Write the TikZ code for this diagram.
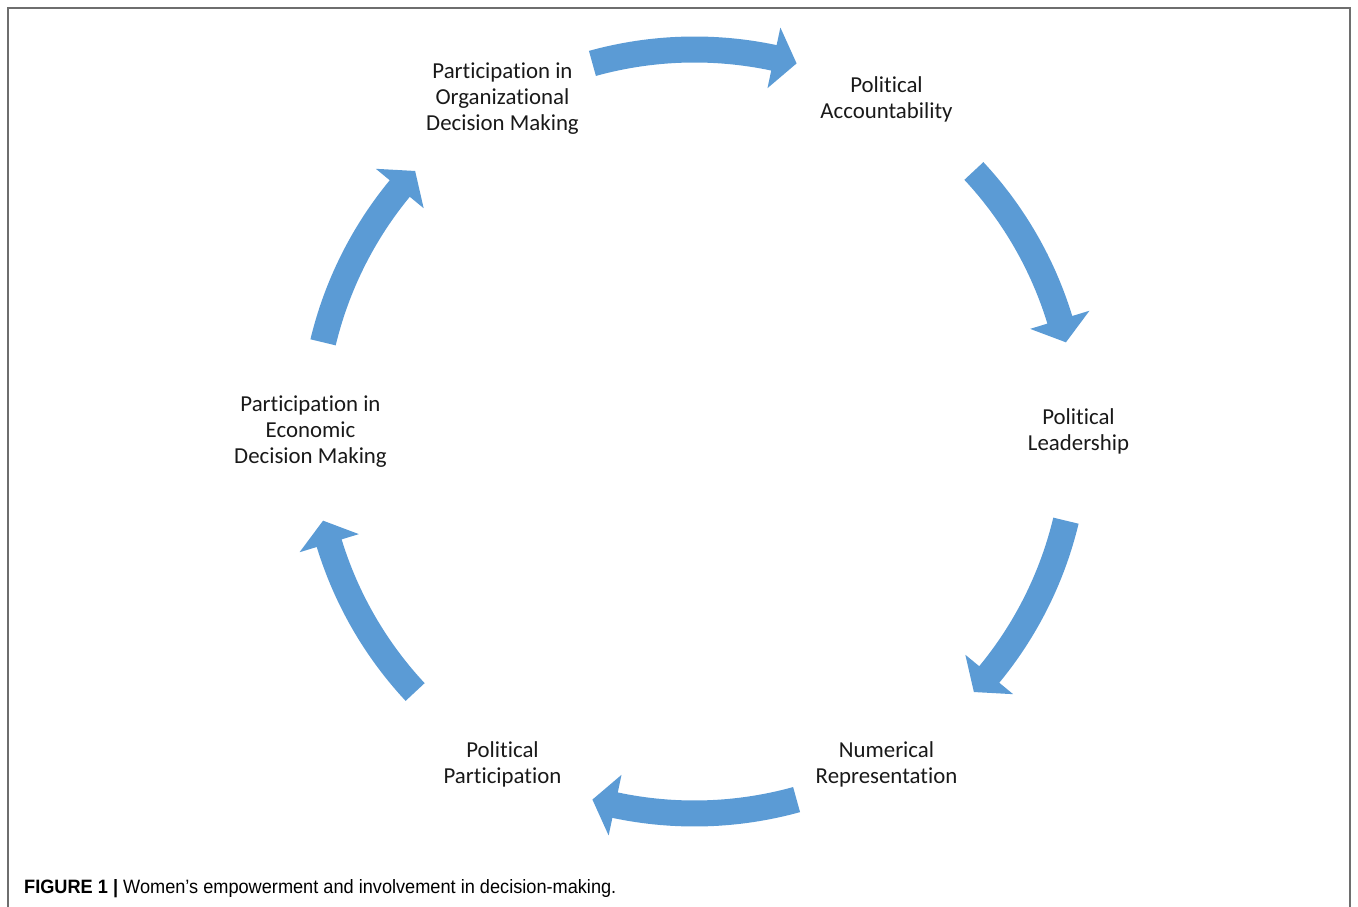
\documentclass[tikz,border=0pt]{standalone}
\usepackage{fontspec}
\setmainfont[Ligatures=CommonOff]{Carlito}
\newfontfamily\capfont[FakeStretch=0.94]{Liberation Sans}
\usepackage{tikz}
\usetikzlibrary{calc, positioning}
\definecolor{arrowblue}{RGB}{91,155,213}
\definecolor{framegray}{RGB}{110,110,110}

\begin{document}
\begin{tikzpicture}[
    stage/.style={align=center, font=\fontsize{13}{14.8}\selectfont, text=black!90},
    cyclearrow/.style={fill=arrowblue}]
  \useasboundingbox (0,0) rectangle (27.16,18.12);
  % draws the frame
  \draw[line width=1.1pt, color=framegray] (0.16,-0.2)--(0.16,17.96)--(27.0,17.96)--(27.0,-0.2);
  \coordinate (c) at (13.89,9.49);

  % draws the stages
  \foreach \ang/\name/\txt in {120/orgdec/{Participation in\\Organizational\\Decision Making},
      60/polacc/{Political\\Accountability}, 0/pollead/{Political\\Leadership},
      -60/numrep/{Numerical\\Representation}, -120/polpart/{Political\\Participation},
      180/ecodec/{Participation in\\Economic\\Decision Making}}
    \node[stage] (\name) at ($(c)+(\ang:7.68)$) {\txt};

  % draws the arrows of the cycle (tail angle / tip angle)
  \foreach \s/\e in {105.5/74.5, 43/13.5, -13.5/-43, -74.5/-105.5, -137/-166.5, 166.5/137}
    \fill[cyclearrow] ($(c)+(\s:7.9)$) arc[start angle=\s, end angle=\e+3.5, radius=7.9]
      -- ($(c)+(\e+3.5:8.26)$) -- ($(c)+(\e:7.64)$) -- ($(c)+(\e+3.5:7.02)$)
      -- ($(c)+(\e+3.5:7.38)$) arc[start angle=\e+3.5, end angle=\s, radius=7.38] -- cycle;

  \node[anchor=base west, font=\capfont\fontsize{11}{13}\selectfont] (caption) at (0.36,0.26)
    {\textbf{FIGURE 1 |} Women’s empowerment and involvement in decision-making.};
\end{tikzpicture}
\end{document}
